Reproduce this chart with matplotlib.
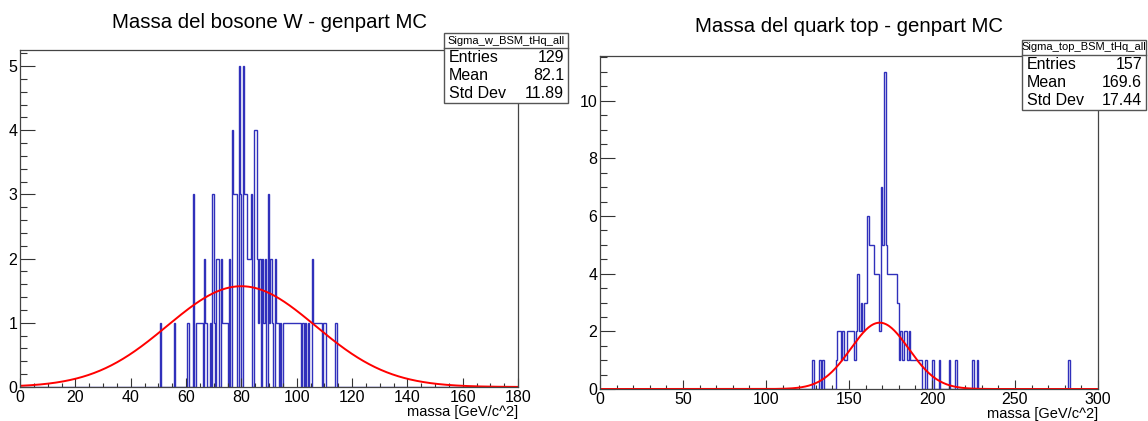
import numpy as np
import matplotlib.pyplot as plt
from matplotlib.patches import Rectangle
from matplotlib.ticker import MultipleLocator

plt.rcParams['font.family'] = ['Liberation Sans', 'DejaVu Sans']

# W boson mass: non-empty bins (lower edge, GeV), bin width 0.5
w_bin_low = [50.5, 55.5, 60.5, 62.5, 63.5, 64.0, 64.5, 65.0, 65.5, 66.5, 67.0, 68.5,
             69.5, 70.0, 71.0, 71.5, 72.5, 73.0, 73.5, 74.0, 74.5, 75.5, 76.5, 77.0,
             77.5, 78.0, 79.0, 79.5, 80.5, 81.0, 81.5, 82.0, 82.5, 83.0, 83.5, 84.5,
             85.0, 85.5, 86.0, 86.5, 87.5, 88.0, 88.5, 89.5, 90.0, 90.5, 91.0, 92.0,
             92.5, 93.0, 94.0, 95.0, 95.5, 96.0, 96.5, 97.0, 97.5, 98.0, 98.5, 99.0,
             99.5, 100.0, 100.5, 101.0, 102.0, 103.0, 104.0, 105.5, 106.0, 106.5, 107.0,
             107.5, 108.0, 108.5, 109.5, 110.0, 114.0]
w_counts = [1, 1, 1, 3, 1, 1, 1, 1, 1, 2, 1, 1,
            3, 1, 2, 2, 2, 1, 1, 1, 1, 2, 4, 3,
            3, 3, 5, 3, 5, 3, 3, 2, 2, 2, 3, 4,
            4, 2, 1, 2, 2, 1, 2, 3, 1, 2, 1, 2,
            1, 1, 1, 1, 1, 1, 1, 1, 1, 1, 1, 1,
            1, 1, 1, 1, 1, 1, 1, 2, 1, 1, 1,
            1, 1, 1, 1, 1, 1]
w_fit = (1.57, 80.0, 26.8)  # constant, mean, sigma

# top quark mass: non-empty bins (lower edge, GeV), bin width 1
top_bin_low = [128, 132, 134, 142, 143, 144, 145, 146, 147, 148, 149, 150, 151, 152,
               153, 154, 155, 156, 157, 158, 159, 160, 161, 162, 163, 164, 165, 166,
               167, 168, 169, 170, 171, 172, 173, 174, 175, 176, 177, 178, 179, 180,
               181, 182, 183, 184, 185, 186, 187, 188, 189, 190, 191, 192, 193, 196,
               200, 204, 210, 214, 224, 227, 282]
top_counts = [1, 1, 1, 1, 2, 2, 1, 2, 1, 1, 2, 2, 2, 2,
              1, 2, 4, 2, 3, 2, 3, 3, 6, 5, 5, 5, 4, 4,
              4, 2, 7, 5, 11, 5, 4, 4, 4, 4, 4, 4, 3, 1,
              2, 1, 2, 2, 1, 2, 1, 1, 1, 1, 1, 1, 1, 1,
              1, 1, 1, 1, 1, 1, 1]
top_fit = (2.3, 168.5, 17.5)

titles = ["Massa del bosone W - genpart MC", "Massa del quark top - genpart MC"]
stat_names = ["Sigma_w_BSM_tHq_all", "Sigma_top_BSM_tHq_all"]
stat_values = [["129", "82.1", "11.89"], ["157", "169.6", "17.44"]]
stat_labels = ["Entries", "Mean", "Std Dev"]

W, H = 1148, 421
fig = plt.figure(figsize=(W / 100, H / 100), dpi=100)


def px(x0, y0, x1, y1):
    return [x0 / W, 1 - y1 / H, (x1 - x0) / W, (y1 - y0) / H]


def panel(rect, bin_low, counts, width, xmax, fit, xmaj, xmin, ymaj, ymin, title, title_y,
          sname, svals, box):
    ax = fig.add_axes(px(*rect))
    edges = np.arange(0, xmax + width / 2, width)
    h = np.zeros(len(edges) - 1)
    for b, c in zip(bin_low, counts):
        h[int(round(b / width))] = c
    ax.stairs(h, edges, color='#3030bb', lw=1.0)
    xs = np.linspace(0, xmax, 600)
    a, m, s = fit
    ax.plot(xs, a * np.exp(-0.5 * ((xs - m) / s) ** 2), color='red', lw=1.4)
    ax.set_xlim(0, xmax)
    ax.set_ylim(0, 1.05 * max(counts))
    ax.xaxis.set_major_locator(MultipleLocator(xmaj))
    ax.xaxis.set_minor_locator(MultipleLocator(xmin))
    ax.yaxis.set_major_locator(MultipleLocator(ymaj))
    ax.yaxis.set_minor_locator(MultipleLocator(ymin))
    ax.tick_params(direction='in', which='both', labelsize=11.5, width=0.8, color='#333333')
    ax.tick_params(axis='x', which='major', length=6.5, pad=2)
    ax.tick_params(axis='x', which='minor', length=3.2)
    ax.tick_params(axis='y', which='major', length=10.5, pad=2)
    ax.tick_params(axis='y', which='minor', length=5.2)
    for sp in ax.spines.values():
        sp.set_color('#444444')
        sp.set_linewidth(0.9)
    ax.set_xlabel('massa [GeV/c^2]', fontsize=10.5, loc='right', labelpad=0)
    cx = (rect[0] + rect[2]) / 2
    fig.text(cx / W, 1 - title_y / H, title, fontsize=14.7, ha='center', va='center')

    # stats box
    bx0, by0, bx1, by1 = box
    fig.patches.append(Rectangle((bx0 / W, 1 - by1 / H), (bx1 - bx0) / W, (by1 - by0) / H,
                                 transform=fig.transFigure, facecolor='white',
                                 edgecolor='#555555', lw=1.0, zorder=5))
    hh = 15
    fig.add_artist(plt.Line2D([bx0 / W, bx1 / W], [1 - (by0 + hh) / H] * 2,
                              color='#555555', lw=1.0, zorder=6))
    fig.text((bx0 + bx1) / 2 / W, 1 - (by0 + hh / 2) / H, sname, fontsize=8,
             ha='center', va='center', zorder=7)
    rowh = (by1 - by0 - hh) / 3
    for i in range(3):
        y = 1 - (by0 + hh + rowh * (i + 0.5)) / H
        fig.text((bx0 + 5) / W, y, stat_labels[i], fontsize=11.5, ha='left', va='center', zorder=7)
        fig.text((bx1 - 4) / W, y, svals[i], fontsize=11.5, ha='right', va='center', zorder=7)
    return ax


panel((20, 50, 518, 387), w_bin_low, w_counts, 0.5, 180, w_fit, 20, 5, 1, 0.2,
      titles[0], 22, stat_names[0], stat_values[0], (444, 33, 568, 103))
panel((600, 56, 1098, 389), top_bin_low, top_counts, 1.0, 300, top_fit, 50, 10, 2, 0.5,
      titles[1], 27, stat_names[1], stat_values[1], (1022, 40, 1146, 110))

fig.savefig('out.png', dpi=100)
